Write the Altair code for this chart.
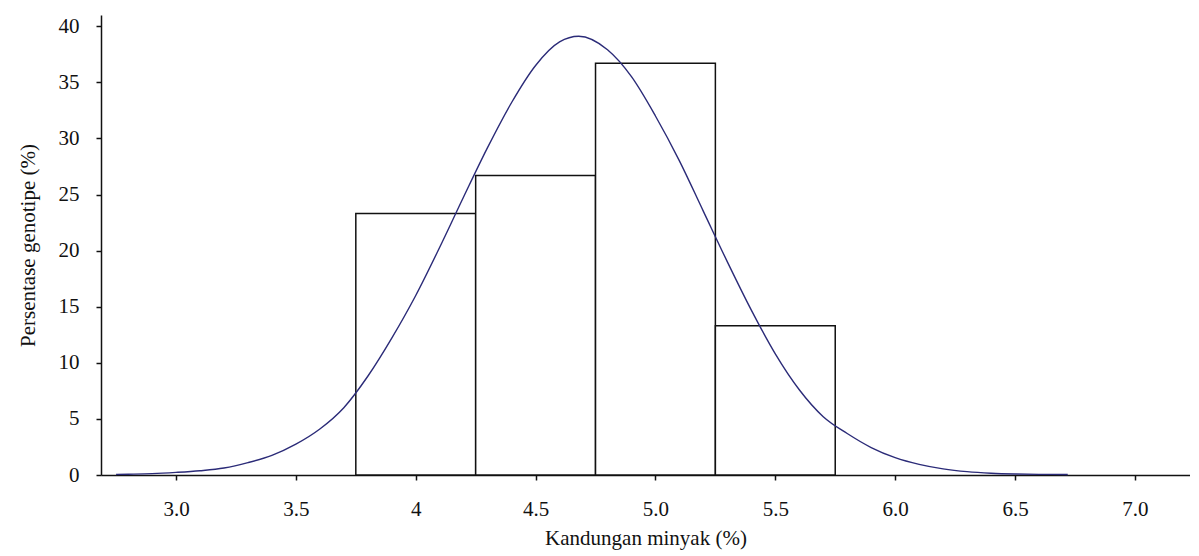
import altair as alt
import pandas as pd

# Histogram bins (oil content, %) and genotype percentage
bin_start = [3.75, 4.25, 4.75, 5.25]
bin_end = [4.25, 4.75, 5.25, 5.75]
bin_pct = [23.3, 26.7, 36.7, 13.3]

# Fitted normal curve
curve_x = [2.75, 2.80, 2.90, 3.00, 3.10, 3.20, 3.30, 3.40, 3.50, 3.60, 3.70,
           3.80, 3.90, 4.00, 4.10, 4.20, 4.30, 4.40, 4.50, 4.60, 4.68, 4.80,
           4.90, 5.00, 5.10, 5.20, 5.30, 5.40, 5.50, 5.60, 5.70, 5.80, 5.90,
           6.00, 6.10, 6.20, 6.30, 6.40, 6.50, 6.60, 6.72]
curve_y = [0.05, 0.07, 0.12, 0.23, 0.38, 0.62, 1.10, 1.75, 2.75, 4.10, 6.00,
           8.80, 12.2, 16.0, 20.3, 24.8, 29.2, 33.2, 36.5, 38.6, 39.1, 37.9,
           35.5, 32.0, 28.0, 23.5, 19.0, 14.7, 10.8, 7.6, 5.2, 3.7, 2.45,
           1.55, 0.95, 0.55, 0.30, 0.16, 0.09, 0.06, 0.05]

x_ticks = [3.0, 3.5, 4.0, 4.5, 5.0, 5.5, 6.0, 6.5, 7.0]
x_tick_labels = ["3.0", "3.5", "4", "4.5", "5.0", "5.5", "6.0", "6.5", "7.0"]
y_ticks = [0, 5, 10, 15, 20, 25, 30, 35, 40]

bars = pd.DataFrame({"x0": bin_start, "x1": bin_end, "pct": bin_pct})
curve = pd.DataFrame({"x": curve_x, "y": curve_y})

label_expr = " : ".join(
    f"abs(datum.value - {v}) < 0.001 ? '{l}'" for v, l in zip(x_ticks, x_tick_labels)
) + " : ''"

FONT = "Liberation Serif"

x_scale = alt.Scale(domain=[2.687, 7.23], nice=False, zero=False)
y_scale = alt.Scale(domain=[0, 41], nice=False, zero=True)

x_axis = alt.Axis(
    title="Kandungan minyak (%)",
    values=x_ticks,
    labelExpr=label_expr,
    grid=False,
    tickSize=5,
    labelPadding=18,
    titlePadding=8,
    labelFlush=False,
)
y_axis = alt.Axis(
    title="Persentase genotipe (%)",
    values=y_ticks,
    grid=False,
    tickSize=5,
    labelPadding=17,
    titlePadding=20,
)

bar_layer = alt.Chart(bars).mark_rect(
    fill="white", stroke="#111111", strokeWidth=1.5
).encode(
    x=alt.X("x0:Q", scale=x_scale, axis=x_axis),
    x2="x1:Q",
    y=alt.Y("pct:Q", scale=y_scale, axis=y_axis),
    y2=alt.datum(0),
)

line_layer = alt.Chart(curve).mark_line(
    color="#2b2b78", strokeWidth=1.4, interpolate="monotone"
).encode(
    x=alt.X("x:Q", scale=x_scale),
    y=alt.Y("y:Q", scale=y_scale),
)

chart = alt.layer(bar_layer, line_layer).properties(
    width=1089,
    height=460,
    autosize=alt.AutoSizeParams(type="none"),
    padding={"left": 93, "top": 7, "right": 0, "bottom": 78},
).configure_view(
    strokeWidth=0
).configure_axis(
    domainColor="#111111",
    domainWidth=1.5,
    tickColor="#111111",
    tickWidth=1.5,
    labelFont=FONT,
    titleFont=FONT,
    labelFontSize=21,
    titleFontSize=21,
    labelColor="#111111",
    titleColor="#111111",
    titleFontWeight="normal",
)

chart.save("out.html", embed_options={"renderer": "svg", "actions": False})
